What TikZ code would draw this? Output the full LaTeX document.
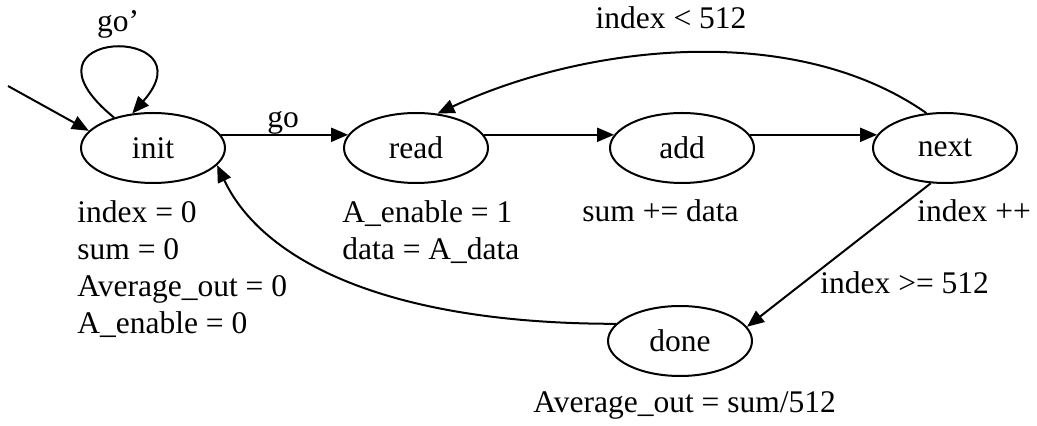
\documentclass[tikz,border=0pt]{standalone}
\usepackage{fontspec}
\setmainfont{Liberation Serif}
\usetikzlibrary{arrows.meta,shapes.geometric,positioning}

\begin{document}
\begin{tikzpicture}[x=0.5pt,y=0.5pt,
  every node/.style={font=\fontsize{15.75}{18.5}\selectfont},
  st/.style={draw,ellipse,line width=1pt,minimum width=72pt,minimum height=35pt,inner sep=0pt},
  arr/.style={line width=1pt,-{Triangle[length=8.5pt,width=7pt]}},
  lbl/.style={inner sep=0pt,align=left}]
\useasboundingbox (0,0) rectangle (1037,-426);
% states
\node[st] (init) at (153,-148) {init};
\node[st] (read) at (416,-148) {read};
\node[st] (add) at (682,-148) {add};
\node[st] (next) at (945,-148) {next};
\node[st] (done) at (680,-341) {done};
% transitions
\coordinate (entry) at (8,-86);
\draw[arr] (entry) -- (init.165);
\draw[arr] (init.142) .. controls +(-110,90) and +(80,90) .. (init.121);
\draw[arr] (init.11) -- (read.169);
\draw[arr] (read.11) -- (add.169);
\draw[arr] (add.11) -- (next.169);
\draw[arr] (next.118) to[out=145,in=25,looseness=0.85] (read.58);
\draw[arr] (next.-112) -- (done.12);
\draw[arr] (done.165) .. controls +(-230,0) and +(45,-95) .. (init.-15);
% conditions
\node[lbl,anchor=base] (goback) at (118,-32) {go'};
\node[lbl,anchor=base] (gofwd) at (283,-128) {go};
\node[lbl,anchor=base] (loopcond) at (671,-29) {index < 512};
\node[lbl,anchor=base west] (endcond) at (820,-294) {index >= 512};
% actions
\node[lbl,anchor=north west] (initact) at (77,-200) {index = 0\\sum = 0\\Average\_out = 0\\A\_enable = 0};
\node[lbl,anchor=north west] (readact) at (342,-200) {A\_enable = 1\\data = A\_data};
\node[lbl,anchor=base west] (addact) at (582,-222) {sum += data};
\node[lbl,anchor=base west] (nextact) at (917,-222) {index ++};
\node[lbl,anchor=base west] (doneact) at (533,-413) {Average\_out = sum/512};
\end{tikzpicture}
\end{document}
